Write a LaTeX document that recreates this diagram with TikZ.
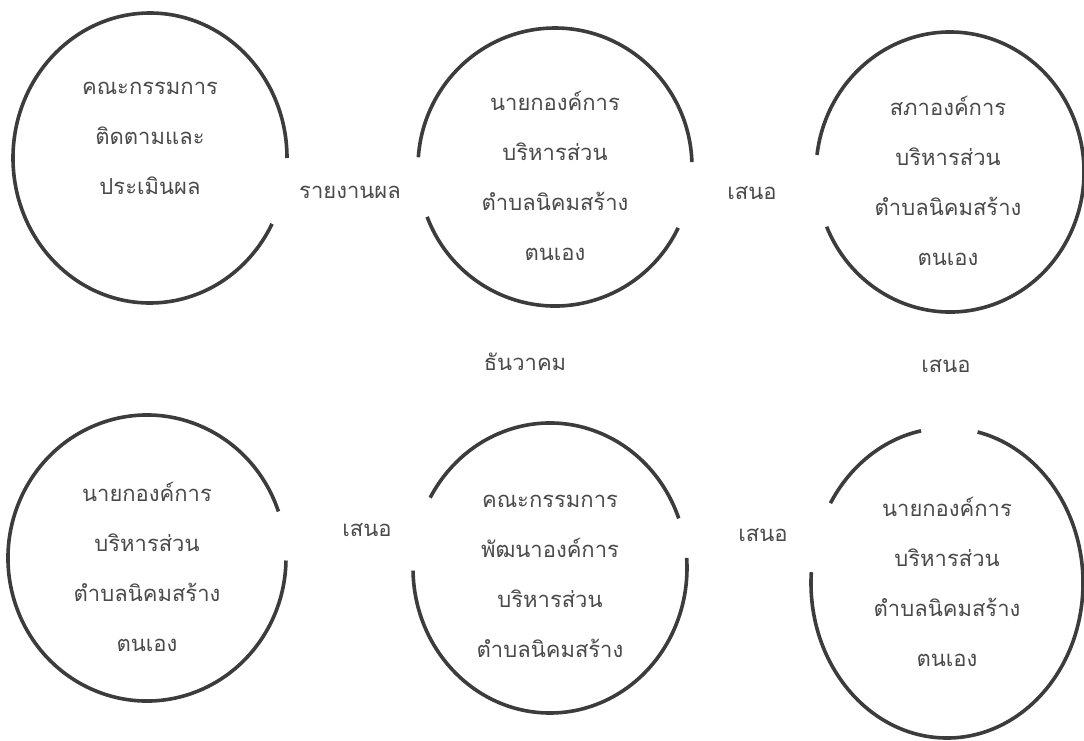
\documentclass[tikz,border=0pt]{standalone}
\usepackage{fontspec}
\newfontfamily\thaifont[Script=Thai]{Loma}
\usetikzlibrary{positioning}

\definecolor{ringgray}{HTML}{3C3C3C}
\definecolor{textgray}{HTML}{4A4A4A}

\tikzset{
    ring/.style={line width=3.6pt, draw=ringgray},
    body/.style={align=center, text=textgray,
        font=\thaifont\fontsize{22}{50}\selectfont},
    label/.style={text=textgray, font=\thaifont\fontsize{22}{26}\selectfont}
}

\begin{document}
\begin{tikzpicture}[x=1pt,y=1pt]
    \useasboundingbox (0,0) rectangle (1084,-740);

    % centres of the rings
    \coordinate (c1) at (150,-158);
    \coordinate (c2) at (555,-167);
    \coordinate (c3) at (950,-172);
    \coordinate (c4) at (147,-558);
    \coordinate (c5) at (550,-568);
    \coordinate (c6) at (947,-583);

    % rings, each left open where a step comes in or goes out
    \draw[ring] ([shift={(0:137 and 145)}]c1)
        arc[start angle=0, end angle=333, x radius=137, y radius=145];
    \draw[ring] ([shift={(2:137 and 139)}]c2)
        arc[start angle=2, end angle=176, x radius=137, y radius=139];
    \draw[ring] ([shift={(201:137 and 139)}]c2)
        arc[start angle=201, end angle=334, x radius=137, y radius=139];
    \draw[ring] ([shift={(203:134 and 140)}]c3)
        arc[start angle=203, end angle=533, x radius=134, y radius=140];
    \draw[ring] ([shift={(19:139 and 143)}]c4)
        arc[start angle=19, end angle=359, x radius=139, y radius=143];
    \draw[ring] ([shift={(20:137 and 145)}]c5)
        arc[start angle=20, end angle=151, x radius=137, y radius=145];
    \draw[ring] ([shift={(181:137 and 145)}]c5)
        arc[start angle=181, end angle=364, x radius=137, y radius=145];
    \draw[ring] ([shift={(101:136 and 155)}]c6)
        arc[start angle=101, end angle=149, x radius=136, y radius=155];
    \draw[ring] ([shift={(176:136 and 155)}]c6)
        arc[start angle=176, end angle=437, x radius=136, y radius=155];

    % texts inside the rings
    \node[body] (monitor) at (150,-138) {คณะกรรมการ\\ติดตามและ\\ประเมินผล};
    \node[body] (mayor) at (555,-176) {นายกองค์การ\\บริหารส่วน\\ตำบลนิคมสร้าง\\ตนเอง};
    \node[body] (council) at (948,-181) {สภาองค์การ\\บริหารส่วน\\ตำบลนิคมสร้าง\\ตนเอง};
    \node[body] (mayorb) at (147,-567) {นายกองค์การ\\บริหารส่วน\\ตำบลนิคมสร้าง\\ตนเอง};
    \node[body] (devcom) at (550,-576) {คณะกรรมการ\\พัฒนาองค์การ\\บริหารส่วน\\ตำบลนิคมสร้าง};
    \node[body] (mayorc) at (947,-582) {นายกองค์การ\\บริหารส่วน\\ตำบลนิคมสร้าง\\ตนเอง};

    % step labels
    \node[label] (report) at (350,-192) {รายงานผล};
    \node[label] (propa) at (752,-193) {เสนอ};
    \node[label, anchor=base] (month) at (525,-370) {ธันวาคม};
    \node[label, anchor=base] (propb) at (946,-372) {เสนอ};
    \node[label] (propc) at (367,-530) {เสนอ};
    \node[label] (propd) at (763,-535) {เสนอ};
\end{tikzpicture}
\end{document}
